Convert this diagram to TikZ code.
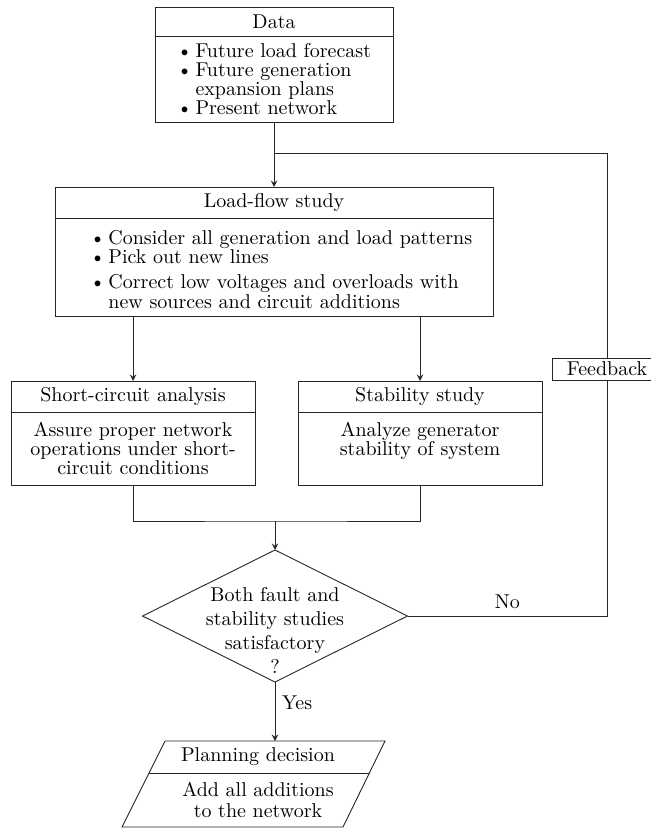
\documentclass[tikz,border=0pt]{standalone}
\usetikzlibrary{positioning,shapes.geometric}
\newcommand{\bl}{\textbullet\hspace{1.5pt}}
\newcommand{\hl}{\phantom{\textbullet\hspace{1.5pt}}}
\begin{document}
\begin{tikzpicture}[x=0.5pt, y=-0.5pt, >=stealth, line width=0.45pt, draw=black!85,
    font=\fontsize{10}{9.6}\selectfont,
    box/.style={draw, inner sep=0pt, outer sep=0pt, align=center},
    list/.style={box, align=left}]
    \useasboundingbox (0,0) rectangle (651,829);

    % Data
    \node[box, minimum width=119pt, minimum height=14.5pt] (dataT) at (274,21.5) {Data};
    \node[list, below=0pt of dataT, minimum width=119pt, minimum height=43pt] (dataB)
        {\bl Future load forecast\\\bl Future generation\\\hl expansion plans\\\bl Present network};

    % Load-flow study
    \node[box, minimum width=219pt, minimum height=15.5pt] (lfT) at (274,202.5) {Load-flow study};
    \node[box, below=0pt of lfT, minimum width=219pt, minimum height=49pt] (lfB)
        {\begin{tabular}{@{\hspace{7pt}}l@{}}
         \rule{0pt}{12pt}\bl Consider all generation and load patterns\\
         \bl Pick out new lines\\[2.5pt]
         \bl Correct low voltages and overloads with\\
         \hl new sources and circuit additions
         \end{tabular}};

    % Short-circuit and stability
    \node[box, minimum width=122pt, minimum height=15.5pt] (scT) at (133,396.5) {Short-circuit analysis};
    \node[box, below=0pt of scT, minimum width=122pt, minimum height=36.5pt] (scB)
        {Assure proper network\\operations under short-\\circuit conditions};
    \node[box, minimum width=122pt, minimum height=15.5pt] (stT) at (420,396.5) {Stability study};
    \node[box, below=0pt of stT, minimum width=122pt, minimum height=36.5pt] (stB)
        {Analyze generator\\stability of system\\\mbox{}};

    % Feedback
    \node[box, minimum width=55pt, minimum height=11pt] (fb) at (607,369) {Feedback};

    % Decision
    \node[diamond, draw, minimum width=132.5pt, minimum height=66pt, inner sep=0pt, outer sep=0pt] (chk) at (275,616) {};
    \node[align=center, font=\fontsize{10}{12}\selectfont] (chkT) at (275,630)
        {Both fault and\\stability studies\\satisfactory\\?};

    % Planning decision
    \coordinate (plTop) at (275,741);
    \draw (165,741) -- (385,741) -- (343,827) -- (122,827) -- cycle;
    \draw (149,773) -- (369,773);
    \node (plT) at (258,757) {Planning decision};
    \node[align=center, font=\fontsize{10}{10.5}\selectfont] (plB) at (258,800) {Add all additions\\to the network};

    % Connectors
    \coordinate (fbjoin) at (274,153);
    \coordinate (merge) at (275,521);
    \draw[->] (dataB) -- (lfT);
    \draw (fb) |- (fbjoin);
    \draw[->] (scT.north |- lfB.south) -- (scT.north);
    \draw[->] (stT.north |- lfB.south) -- (stT.north);
    \draw (scB.south) |- (merge) -| (stB.south);
    \draw[->] (merge) -- (chk);
    \draw (chk.east) -| node[pos=0.25, above] {No} (fb);
    \draw[->] (chk.south) -- node[pos=0.35, right] {Yes} (plTop);
\end{tikzpicture}
\end{document}
